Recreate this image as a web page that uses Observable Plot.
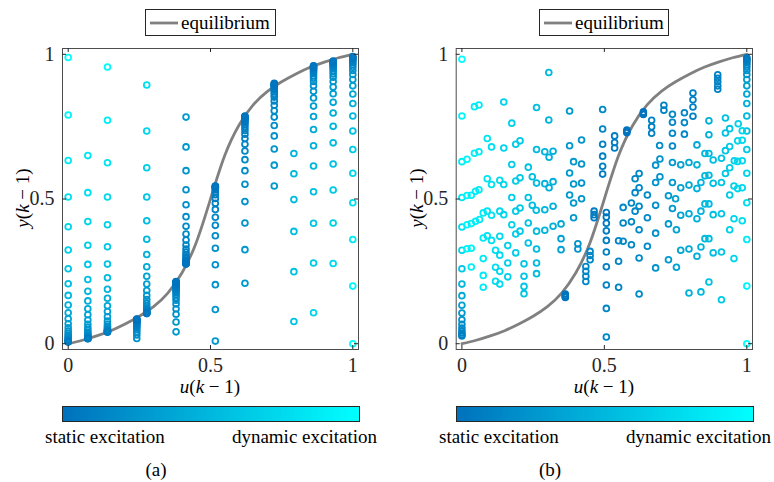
<!DOCTYPE html>
<html>
<head>
<meta charset="utf-8">
<script src="https://cdn.jsdelivr.net/npm/d3@7"></script>
<script src="https://cdn.jsdelivr.net/npm/@observablehq/plot@0.6"></script>
<style>
  html, body { margin: 0; padding: 0; background: #fff; }
  #fig { position: relative; width: 774px; height: 482px; background: #fff; font-family: "Liberation Serif", "Times New Roman", Times, Tinos, "DejaVu Serif", "Noto Serif", FreeSerif, serif; color: #000; overflow: hidden; }
  .abs { position: absolute; white-space: nowrap; }
  .leg { position: absolute; border: 1px solid #262626; background: #fff; box-sizing: border-box; height: 27px; }
  .leg span { position: absolute; left: 35px; top: 0; line-height: 25px; font-size: 19px; }
  .lab { font-size: 19px; line-height: 22px; }
  .cb { position: absolute; border: 1px solid #262626; line-height: 0; }
  i { font-style: italic; }
</style>
</head>
<body>
<div id="fig"></div>
<script>
const FONT = '"Liberation Serif", "Times New Roman", Times, Tinos, "DejaVu Serif", "Noto Serif", FreeSerif, serif';
// ---------- equilibrium curve ----------
const eqU = [0, 0.05, 0.1, 0.15, 0.2, 0.25, 0.3, 0.35, 0.4, 0.45, 0.5, 0.55, 0.6, 0.65, 0.7, 0.75, 0.8, 0.85, 0.9, 0.95, 1];
const eqY = [0, 0.012, 0.027, 0.045, 0.068, 0.095, 0.128, 0.175, 0.245, 0.35, 0.5, 0.65, 0.755, 0.825, 0.872, 0.905, 0.932, 0.955, 0.973, 0.988, 1.0];

// ---------- panel (a): columns ----------
const leftColU = [0, 0.069, 0.138, 0.241, 0.276, 0.379, 0.414, 0.517, 0.621, 0.724, 0.793, 0.862, 0.931, 1];
const leftColY = [
  [0.989,0.790,0.633,0.507,0.404,0.324,0.259,0.207,0.167,0.134,0.107,0.086,0.069,0.055,0.044,0.036,0.029,0.024,0.019,0.016,0.013,0.011,0.009,0.008,0.007,0.006],
  [0.650,0.522,0.422,0.340,0.274,0.222,0.181,0.148,0.121,0.100,0.082,0.067,0.056,0.047,0.040,0.034,0.030,0.027,0.024,0.022,0.021,0.019,0.018,0.018,0.017],
  [0.956,0.772,0.625,0.507,0.411,0.335,0.275,0.228,0.188,0.157,0.131,0.111,0.093,0.078,0.067,0.060,0.055,0.051,0.048,0.046,0.044,0.043,0.042,0.041,0.040],
  [0.018,0.030,0.040,0.048,0.055,0.060,0.065,0.069,0.072,0.075,0.077,0.079,0.080,0.081,0.082,0.083,0.084,0.085],
  [0.894,0.735,0.608,0.507,0.425,0.361,0.308,0.266,0.233,0.206,0.184,0.167,0.153,0.141,0.131,0.124,0.118,0.114,0.111,0.108,0.106,0.105,0.104],
  [0.041,0.075,0.102,0.121,0.137,0.150,0.160,0.168,0.175,0.181,0.186,0.190,0.194,0.197,0.200,0.202,0.204,0.206,0.208,0.210,0.211,0.212,0.214,0.215],
  [0.783,0.680,0.598,0.532,0.480,0.439,0.406,0.379,0.358,0.341,0.327,0.316,0.307,0.300,0.294,0.289,0.285,0.282,0.280,0.278,0.277,0.276,0.275],
  [0.009,0.118,0.204,0.273,0.330,0.373,0.409,0.437,0.464,0.485,0.502,0.515,0.524,0.531,0.536,0.539,0.541,0.543,0.544,0.545],
  [0.209,0.325,0.417,0.491,0.551,0.598,0.636,0.666,0.689,0.709,0.724,0.737,0.748,0.757,0.764,0.770,0.774,0.778,0.781,0.783,0.785,0.787],
  [0.545,0.617,0.673,0.718,0.754,0.783,0.805,0.824,0.839,0.852,0.862,0.870,0.877,0.883,0.887,0.891,0.894,0.896,0.898,0.900],
  [0.077,0.249,0.388,0.498,0.587,0.657],
  [0.107,0.279,0.416,0.525,0.614,0.684,0.740,0.785,0.821,0.849,0.872,0.891,0.906,0.917,0.926,0.934,0.940,0.945,0.949,0.952,0.955,0.957,0.959,0.960],
  [0.277,0.417,0.531,0.621,0.694,0.751,0.797,0.834,0.864,0.887,0.906,0.921,0.932,0.941,0.949,0.955,0.960,0.964,0.968,0.971,0.973,0.975,0.977],
  [0.000,0.199,0.360,0.487,0.589,0.671,0.735,0.787,0.830,0.863,0.891,0.913,0.930,0.944,0.955,0.964,0.971,0.977,0.981,0.985,0.988,0.990,0.992]
];
// excitation level (0 = static, 1 = dynamic)
const leftColC = [
  [1,0.95,0.9,0.85,0.8,0.76,0.72,0.68,0.64,0.6,0.56,0.52,0.48,0.45,0.42,0.39,0.36,0.34,0.32,0.3,0.28,0.26,0.24,0.22,0.2,0.18],
  [0.88,0.84,0.8,0.76,0.72,0.68,0.64,0.6,0.56,0.53,0.5,0.47,0.44,0.41,0.38,0.36,0.34,0.32,0.3,0.28,0.26,0.24,0.22,0.2,0.18],
  [0.97,0.92,0.87,0.82,0.78,0.74,0.7,0.66,0.62,0.58,0.54,0.5,0.47,0.44,0.41,0.38,0.35,0.33,0.31,0.29,0.27,0.25,0.23,0.21,0.19],
  [0.4,0.37,0.34,0.31,0.28,0.26,0.24,0.22,0.2,0.18,0.16,0.14,0.12,0.1,0.08,0.06,0.05,0.04],
  [0.85,0.8,0.76,0.72,0.68,0.64,0.6,0.56,0.52,0.49,0.46,0.43,0.4,0.37,0.34,0.31,0.28,0.25,0.22,0.19,0.16,0.13,0.1],
  [0.45,0.43,0.41,0.39,0.37,0.35,0.33,0.31,0.29,0.27,0.25,0.23,0.21,0.19,0.17,0.15,0.13,0.12,0.11,0.1,0.09,0.08,0.07,0.06],
  [0.45,0.43,0.41,0.39,0.37,0.35,0.33,0.31,0.29,0.27,0.25,0.23,0.21,0.19,0.17,0.15,0.13,0.12,0.11,0.1,0.09,0.08,0.07],
  [0.45,0.43,0.41,0.39,0.37,0.35,0.33,0.31,0.29,0.27,0.25,0.23,0.21,0.19,0.17,0.15,0.13,0.11,0.09,0.07],
  [0.45,0.43,0.41,0.39,0.37,0.35,0.33,0.31,0.29,0.27,0.25,0.23,0.21,0.19,0.17,0.15,0.13,0.12,0.11,0.1,0.09,0.08],
  [0.45,0.43,0.41,0.39,0.37,0.35,0.33,0.31,0.29,0.27,0.25,0.23,0.21,0.19,0.17,0.15,0.13,0.11,0.09,0.07],
  [0.72,0.7,0.68,0.66,0.64,0.62],
  [0.8,0.76,0.72,0.68,0.64,0.6,0.56,0.52,0.48,0.45,0.42,0.39,0.36,0.33,0.3,0.27,0.24,0.21,0.18,0.15,0.13,0.11,0.09,0.07],
  [0.82,0.78,0.74,0.7,0.66,0.62,0.58,0.54,0.5,0.46,0.42,0.39,0.36,0.33,0.3,0.27,0.24,0.21,0.18,0.15,0.12,0.1,0.08],
  [1,0.95,0.9,0.85,0.8,0.75,0.7,0.65,0.6,0.55,0.5,0.46,0.42,0.38,0.34,0.3,0.27,0.24,0.21,0.18,0.15,0.12,0.1]
];

// ---------- panel (b): columns + scattered points ----------
const rightColU = [0, 1, 0.494, 0.507, 0.898, 0.811, 0.709, 0.637, 0.579, 0.536, 0.666, 0.739, 0.781, 0.435, 0.450, 0.363, 0.464];
const rightColY = [
  [0.983,0.787,0.629,0.505,0.403,0.323,0.259,0.206,0.166,0.133,0.106,0.083,0.067,0.054,0.044,0.037,0.031,0.027],
  [0.000,0.199,0.360,0.487,0.589,0.671,0.735,0.787,0.830,0.863,0.891,0.913,0.930,0.944,0.955,0.964,0.971,0.977,0.981,0.985,0.988],
  [0.809,0.742,0.689,0.648,0.613,0.586],
  [0.023,0.122,0.203,0.266,0.317,0.357,0.390,0.416,0.438,0.453],
  [0.929,0.917,0.905,0.891,0.879],
  [0.866,0.843,0.818,0.786],
  [0.824,0.807],
  [0.801,0.796,0.792],
  [0.738,0.733,0.729],
  [0.718,0.695,0.676],
  [0.772,0.750,0.727],
  [0.793,0.765,0.727,0.683],
  [0.798,0.764,0.724],
  [0.267,0.250,0.233,0.215],
  [0.319,0.305,0.290],
  [0.172,0.167,0.163,0.160],
  [0.458,0.446,0.435]
];
const rightColC = [
  [1,0.96,0.92,0.88,0.84,0.8,0.72,0.64,0.56,0.5,0.45,0.4,0.36,0.33,0.3,0.28,0.26,0.24],
  [1,0.95,0.9,0.85,0.8,0.75,0.7,0.65,0.6,0.55,0.5,0.46,0.42,0.38,0.34,0.3,0.27,0.24,0.21,0.18,0.15],
  [0.3,0.28,0.26,0.24,0.22,0.2],
  [0.3,0.28,0.26,0.24,0.22,0.2,0.18,0.16,0.14,0.12],
  [0.25,0.25,0.25,0.25,0.25],
  [0.25,0.25,0.25,0.25],
  [0.25,0.25],
  [0.05,0.05,0.05],
  [0.05,0.05,0.05],
  [0.2,0.2,0.2],
  [0.25,0.25,0.25],
  [0.3,0.3,0.3,0.3],
  [0.3,0.3,0.3],
  [0.3,0.3,0.3,0.3],
  [0.3,0.3,0.3],
  [0.08,0.08,0.08,0.08],
  [0.2,0.2,0.2]
];
const rightU = [
  0.044,0.060,0.147,0.262,0.305,0.378,0.175,0.305,0.089,0.104,0.147,0.189,0.204,0.262,0.291,0.320,0.306,0.378,0.420,
  0.018,0.044,0.060,0.175,0.233,0.392,0.420,0.247,0.378,0.089,0.104,0.133,0.147,0.189,0.204,0.262,0.291,0.320,0.306,
  0.392,0.420,0.378,0.420,0.018,0.033,0.048,0.060,0.175,0.233,
  0.247,0.261,0.291,0.320,0.392,0.018,0.033,0.048,0.062,0.075,0.089,0.104,0.133,0.147,0.189,0.204,0.175,0.233,0.189,
  0.204,0.262,0.291,0.320,0.348,0.392,0.075,0.089,0.104,0.133,0.233,0.161,0.348,0.348,0.407,0.407,0.018,0.033,0.118,
  0.133,0.075,0.189,0.262,0.033,0.118,0.133,0.161,0.218,0.262,0.262,0.075,0.161,0.218,0.118,0.133,0.075,0.218,0.218,
  0.694,0.825,0.867,0.867,0.925,0.940,0.925,0.970,0.984,0.680,0.695,0.739,0.768,0.797,0.825,0.853,0.867,0.882,0.911,
  0.925,0.940,0.968,0.984,0.940,0.956,0.968,0.984,0.608,0.622,0.622,0.608,0.680,0.695,0.651,0.739,0.768,0.797,0.725,
  0.750,0.825,0.839,0.853,0.867,0.882,0.911,0.925,0.955,0.968,0.984,0.940,
  0.566,0.595,0.622,0.608,0.566,0.595,0.622,0.651,0.680,0.680,0.725,0.753,0.739,0.768,0.797,0.825,0.839,0.853,0.867,
  0.882,0.911,0.940,0.955,0.984,0.550,0.566,0.595,0.550,0.651,0.622,0.680,0.725,0.753,0.768,0.797,0.825,0.839,0.853,
  0.867,0.882,0.911,0.955,0.550,0.622,0.797,0.839,0.867,0.911
];
const rightY = [
  0.819,0.825,0.835,0.816,0.937,0.804,0.762,0.773,0.709,0.680,0.676,0.689,0.701,0.671,0.663,0.665,0.644,0.684,0.704,
  0.637,0.658,0.663,0.619,0.610,0.629,0.621,0.577,0.590,0.570,0.550,0.565,0.550,0.562,0.573,0.555,0.553,0.560,0.539,
  0.552,0.555,0.514,0.501,0.512,0.513,0.527,0.532,0.505,0.505,
  0.478,0.461,0.463,0.475,0.486,0.411,0.415,0.423,0.429,0.452,0.458,0.444,0.458,0.446,0.458,0.469,0.411,0.417,0.379,
  0.389,0.389,0.392,0.406,0.414,0.435,0.365,0.373,0.357,0.371,0.348,0.339,0.363,0.325,0.345,0.327,0.328,0.330,0.323,
  0.306,0.294,0.314,0.327,0.265,0.264,0.250,0.279,0.276,0.279,0.242,0.236,0.231,0.233,0.216,0.206,0.195,0.198,0.173,
  0.685,0.687,0.770,0.722,0.780,0.743,0.728,0.760,0.736,0.617,0.638,0.626,0.618,0.626,0.618,0.657,0.657,0.635,0.641,
  0.667,0.681,0.701,0.703,0.608,0.632,0.630,0.632,0.570,0.588,0.539,0.522,0.557,0.577,0.514,0.557,0.539,0.548,0.511,
  0.501,0.536,0.557,0.580,0.582,0.554,0.557,0.588,0.545,0.536,0.539,0.514,
  0.471,0.486,0.475,0.458,0.417,0.421,0.394,0.435,0.478,0.382,0.414,0.394,0.467,0.444,0.449,0.432,0.458,0.483,0.483,
  0.446,0.449,0.394,0.432,0.425,0.356,0.354,0.342,0.285,0.337,0.296,0.262,0.290,0.264,0.323,0.327,0.302,0.334,0.363,
  0.363,0.314,0.317,0.294,0.195,0.172,0.175,0.179,0.213,0.152
];
const rightC = [
  0.92,0.9,0.8,0.68,0.66,0.45,0.78,0.62,0.88,0.85,0.8,0.75,0.74,0.66,0.62,0.6,0.6,0.45,0.4,
  0.95,0.92,0.9,0.76,0.7,0.45,0.4,0.68,0.45,0.88,0.86,0.82,0.8,0.76,0.74,0.66,0.62,0.6,0.6,
  0.45,0.4,0.45,0.4,0.95,0.93,0.92,0.9,0.76,0.7,
  0.68,0.66,0.62,0.6,0.45,0.95,0.93,0.92,0.9,0.9,0.88,0.86,0.82,0.8,0.76,0.74,0.78,0.7,0.76,
  0.74,0.66,0.62,0.6,0.55,0.45,0.9,0.88,0.86,0.82,0.7,0.78,0.5,0.5,0.4,0.4,0.95,0.93,0.84,
  0.82,0.9,0.76,0.66,0.93,0.84,0.82,0.78,0.72,0.66,0.66,0.9,0.78,0.72,0.84,0.82,0.9,0.72,0.72,
  0.35,0.55,0.6,0.6,0.7,0.72,0.7,0.78,0.8,0.4,0.4,0.45,0.5,0.55,0.6,0.65,0.65,0.68,0.7,
  0.72,0.75,0.8,0.82,0.75,0.78,0.8,0.82,0.3,0.3,0.3,0.3,0.4,0.4,0.35,0.45,0.5,0.55,0.45,
  0.5,0.6,0.62,0.65,0.65,0.68,0.72,0.72,0.78,0.8,0.82,0.75,
  0.3,0.3,0.32,0.3,0.3,0.3,0.32,0.35,0.38,0.38,0.45,0.5,0.45,0.52,0.56,0.6,0.62,0.65,0.66,
  0.68,0.72,0.78,0.8,0.84,0.28,0.3,0.3,0.28,0.35,0.32,0.4,0.45,0.5,0.52,0.56,0.6,0.62,0.65,
  0.66,0.68,0.72,0.8,0.28,0.32,0.6,0.65,0.7,0.75
];

const ticks = [0, 0.5, 1];
const cmapRange = ["#0072bd", "#00ffff"];

function columnsToPoints(colU, colY, colC) {
  const pts = [];
  colU.forEach((u, i) => colY[i].forEach((y, j) => pts.push({u, y, c: colC[i][j]})));
  return pts;
}
const leftPts = columnsToPoints(leftColU, leftColY, leftColC);
const rightPts = columnsToPoints(rightColU, rightColY, rightColC)
  .concat(rightU.map((u, i) => ({u, y: rightY[i], c: rightC[i]})));
const eq = eqU.map((u, i) => ({u, y: eqY[i]}));

function panel(points, mL, mR) {
  const W = 387, H = 400, mT = 48, mB = 51;
  const fw = W - mL - mR, fh = H - mT - mB;
  return Plot.plot({
    width: W, height: H,
    marginLeft: mL, marginRight: mR, marginTop: mT, marginBottom: mB,
    x: {domain: [-0.02, 1.02]},
    y: {domain: [-0.02, 1.02]},
    color: {type: "pow", exponent: 1.6, domain: [0, 1], range: cmapRange, interpolate: "rgb"},
    style: {background: "transparent", fontFamily: FONT, fontSize: "20px", color: "#262626", overflow: "visible"},
    marks: [
      Plot.line(eq, {x: "u", y: "y", stroke: "#808080", strokeWidth: 2.8, curve: "natural"}),
      Plot.dot(points, {x: "u", y: "y", stroke: "c", r: 2.9, strokeWidth: 1.8, fill: "none"}),
      Plot.frame({stroke: "#4d4d4d", strokeWidth: 1}),
      Plot.tickX(ticks, {x: d => d, insetTop: fh - 4, stroke: "#262626"}),
      Plot.tickX(ticks, {x: d => d, insetBottom: fh - 4, stroke: "#262626"}),
      Plot.tickY(ticks, {y: d => d, insetRight: fw - 4, stroke: "#262626"}),
      Plot.tickY(ticks, {y: d => d, insetLeft: fw - 4, stroke: "#262626"}),
      Plot.axisX(ticks, {tickSize: 0, tickPadding: 8, tickFormat: d => String(d), label: null, fill: "#262626", fontFamily: FONT}),
      Plot.axisY(ticks, {tickSize: 0, tickPadding: 8, tickFormat: d => String(d), label: null, fill: "#262626", fontFamily: FONT})
    ]
  });
}

const fig = document.getElementById("fig");
function place(el, left, top) {
  el.style.position = "absolute"; el.style.left = left + "px"; el.style.top = top + "px";
  fig.appendChild(el); return el;
}
function html(h, left, top, cls, extra) {
  const d = document.createElement("div");
  d.className = "abs " + (cls || "");
  d.innerHTML = h;
  place(d, left, top);
  if (extra) Object.assign(d.style, extra);
  return d;
}

place(panel(leftPts, 62, 29), 0, 0);
place(panel(rightPts, 68.7, 22), 387, 0);

// legends
function legendBox(left, width) {
  const d = document.createElement("div");
  d.className = "leg";
  d.style.width = width + "px";
  d.innerHTML = `<svg width="40" height="25" style="position:absolute;left:0;top:0"><line x1="4" x2="32" y1="13" y2="13" stroke="#808080" stroke-width="2.8"/></svg><span>equilibrium</span>`;
  place(d, left, 9);
}
legendBox(145, 131);
legendBox(539, 130);

// axis labels
const xlab = `<i>u</i>(<i>k</i> − 1)`;
const ylab = `<i>y</i>(<i>k</i> − 1)`;
html(xlab, 10, 376, "lab", {width: "400px", textAlign: "center"});
html(xlab, 404, 376, "lab", {width: "400px", textAlign: "center"});
function ylabel(cx) {
  html(ylab, cx - 50, 198 - 11, "lab", {width: "100px", textAlign: "center", transform: "rotate(-90deg)"});
}
ylabel(23);
ylabel(417);

// colorbars
function colorbar(left, width) {
  const lg = Plot.legend({
    color: {type: "linear", domain: [0, 1], range: cmapRange, interpolate: "rgb"},
    width: width, height: 14, marginTop: 0, marginBottom: 0, marginLeft: 0, marginRight: 0,
    ticks: [], tickSize: 0, label: null,
    style: {background: "transparent"}
  });
  const wrap = document.createElement("div");
  wrap.className = "cb";
  wrap.appendChild(lg);
  lg.style.display = "block";
  place(wrap, left, 406);
}
colorbar(61.5, 296);
colorbar(455.5, 296);

html("static excitation", 45, 426, "lab");
html("dynamic excitation", 0, 426, "lab", {left: "auto", right: (774 - 377) + "px"});
html("static excitation", 439, 426, "lab");
html("dynamic excitation", 0, 426, "lab", {left: "auto", right: (774 - 771) + "px"});

html("(a)", 106, 459, "lab", {width: "100px", textAlign: "center"});
html("(b)", 500, 459, "lab", {width: "100px", textAlign: "center"});
</script>
</body>
</html>
